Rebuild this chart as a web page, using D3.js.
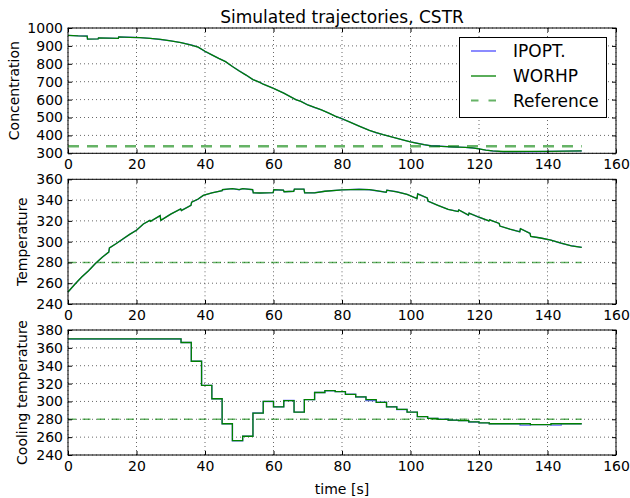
<!DOCTYPE html>
<html><head><meta charset="utf-8">
<script src="https://cdn.jsdelivr.net/npm/d3@7"></script>
<style>body{margin:0;background:#fff} text{font-family:"DejaVu Sans",sans-serif;fill:#000}</style>
</head><body><svg id="c" width="630" height="498"></svg>
<script>
// ---------- data ----------
const xTicks = [0,20,40,60,80,100,120,140,160];
const seriesNames = ["IPOPT.","WORHP","Reference"];

const concTime  = [0,3,5.6,5.7,8.8,8.9,12,14.7,14.8,18,21,24,27,30,33,36,38,40,42,44,46,48,50,52,54,56,57,60,63,66.5,68,70,72,74,76,78,80,82,85,88,90,92,95,98,100,102,104,106,109,112,116,118,120,122,124,127,130,135,140,145,150];
const concWorhp = [959,956,955,938,939,945,943,942,950,948,946,942,936,928,918,905,893,870,850,830,812,785,760,737,712,696,686,663,636,600,590,570,556,543,526,508,493,477,452,428,415,404,389,374,364,356,348,342,339,336,333,330,325,318,314,310,310,311,311,312,313];
const concIpopt = [959,956,955,938,939,945,943,942,950,948,946,942,936,928,918,905,893,870,850,830,812,785,760,737,712,696,686,663,636,600,590,570,556,543,526,508,493,477,452,428,415,404,389,374,364,356,348,342,339,336,333,330,325,318,313,308,308,309,310,312,313];
const concRef = 339;
const concTicks = [300,400,500,600,700,800,900,1000];

const tempTime  = [0,2,4,6,8,10,11.9,12.1,14,16,18,20,22,23.9,24.1,26.9,27.1,30,32.9,33.1,35.9,36.1,38,39.5,42,45,45.1,48,50,51,53.9,54.1,56,59.9,60.1,62.9,63.1,65.9,66.1,68.9,69.1,72,75,80,85,88,90,92.9,93.1,96,99,101.9,102.1,104.9,105.1,108,111,113.9,114.1,116.9,117.1,120,122.9,123.1,125.9,126.1,129,131.9,132.1,134.9,135.1,138,141,144,147,150];
const tempWorhp = [251.5,259,266,272,279,285,290,294,298,302.5,307,311,317,320.5,319.5,325,320.5,326.5,331.5,330,335,338,341,344.5,347,349,350,351,350,351,350,347,346.8,347.2,350,349.5,348,348.5,350.5,350.5,347,347,348.5,349.8,350.4,350,349,347.5,349.5,348,345.5,341.5,346,342,339,335,331,329,330.5,325.5,327.5,323.5,320,321,317.5,315,312,309.5,312.5,308,305,303.5,301.5,298.5,296,294.5];
const tempIpopt = [251.5,259,266,272,279,285,290,294,298,302.5,307,311,317,320.5,319.5,325,320.5,326.5,331.5,330,335,338,341,344.5,347,349,350,351,350,351,350,347,346.8,347.2,350,349.5,348,348.5,350.5,350.5,347,347,348.5,349.8,350.4,350,349,347.5,349.5,348,345.5,341.5,346,342,339,335,331,329,330.5,325.5,327.5,323.5,320,321,317.5,315,312,309.5,312.5,308,305,303.5,301.5,298.5,296,294.5];
const tempRef = 280;
const tempTicks = [240,260,280,300,320,340,360];

const ctrlTime  = [0,3,6,9,12,15,18,21,24,27,30,33,36,39,42,45,48,51,54,57,60,63,66,69,72,75,78,81,84,87,90,93,96,99,102,105,108,111,114,117,120,123,126,129,132,135,138,141,144,147,150];
const ctrlWorhp = [370,370,370,370,370,370,370,370,370,370,370,366,345,318,303,275,256,261,287,300,294,301,288,302,310,312,311,308,305,302,299,294,291,288,283,281,280,279,278.5,277,276,275,275,275,275,274,274,275,275,275,275];
const ctrlIpopt = [370,370,370,370,370,370,370,370,370,370,370,366,345,318,303,275,256,261,287,300,294,301,288,302,310,312,311,308,305,301,299,294,291,288,283,281,280,279,278.5,277,276,275,275,275,273.5,274,274,273.5,275,275,275];
const ctrlRef = 280;
const ctrlTicks = [240,260,280,300,320,340,360,380];

// ---------- layout ----------
const svg = d3.select("#c");
const L = 68, R = 616;
const panels = [
  {top:28,   bottom:153.3, dom:[300,1000], ticks:concTicks, label:"Concentration", labelX:18.5,
   t:concTime, a:concIpopt, b:concWorhp, ref:concRef, step:false, refDash:"11,8", refW:2.5},
  {top:179.3,bottom:304,   dom:[240,360],  ticks:tempTicks, label:"Temperature", labelX:27,
   t:tempTime, a:tempIpopt, b:tempWorhp, ref:tempRef, step:false, refDash:"8,6.5", refW:1.6},
  {top:330,  bottom:455,   dom:[240,380],  ticks:ctrlTicks, label:"Cooling temperature", labelX:27,
   t:ctrlTime, a:ctrlIpopt, b:ctrlWorhp, ref:ctrlRef, step:true, refDash:"8,6.5", refW:1.6}
];
const x = d3.scaleLinear().domain([0,160]).range([L,R]);

panels.forEach((p,i)=>{
  const y = d3.scaleLinear().domain(p.dom).range([p.bottom,p.top]);
  const g = svg.append("g");
  // grid
  g.selectAll(".gx").data(xTicks).join("line")
    .attr("x1",d=>x(d)).attr("x2",d=>x(d)).attr("y1",p.top).attr("y2",p.bottom)
    .attr("stroke","#000").attr("stroke-width",0.6).attr("stroke-dasharray","1,3");
  g.selectAll(".gy").data(p.ticks).join("line")
    .attr("y1",d=>y(d)).attr("y2",d=>y(d)).attr("x1",L).attr("x2",R)
    .attr("stroke","#000").attr("stroke-width",0.6).attr("stroke-dasharray","1,3");
  // reference
  g.append("line").attr("x1",x(0)).attr("x2",x(150)).attr("y1",y(p.ref)).attr("y2",y(p.ref))
    .attr("stroke","#008000").attr("stroke-opacity",0.6).attr("stroke-width",p.refW)
    .attr("stroke-dasharray",p.refDash);
  const line = d3.line().x(d=>x(d[0])).y(d=>y(d[1]));
  if (p.step) line.curve(d3.curveStepAfter);
  g.append("path").attr("d",line(p.t.map((t,k)=>[t,p.a[k]])))
    .attr("fill","none").attr("stroke","#0000ff").attr("stroke-width",1.4).attr("stroke-opacity",0.6);
  g.append("path").attr("d",line(p.t.map((t,k)=>[t,p.b[k]])))
    .attr("fill","none").attr("stroke","#008000").attr("stroke-width",1.3);
  // axes
  const ax = (gen, tr) => g.append("g").attr("transform",tr).call(gen)
      .call(s=>s.select(".domain").remove())
      .call(s=>s.selectAll("text").style("font-size","14px").style("font-family","DejaVu Sans"))
      .call(s=>s.selectAll("line").attr("stroke","#000"));
  ax(d3.axisLeft(y).tickValues(p.ticks).tickSize(-4).tickPadding(5).tickFormat(d3.format("d")), `translate(${L},0)`);
  ax(d3.axisRight(y).tickValues(p.ticks).tickSize(-4).tickFormat(""), `translate(${R},0)`);
  ax(d3.axisTop(x).tickValues(xTicks).tickSize(-4).tickFormat(""), `translate(0,${p.top})`);
  ax(d3.axisBottom(x).tickValues(xTicks).tickSize(-4).tickPadding(6).tickFormat(d3.format("d")), `translate(0,${p.bottom})`);
  // frame
  g.append("rect").attr("x",L).attr("y",p.top).attr("width",R-L).attr("height",p.bottom-p.top)
    .attr("fill","none").attr("stroke","#000").attr("stroke-width",1);
  // y label
  g.append("text").attr("transform",`translate(${p.labelX},${(p.top+p.bottom)/2}) rotate(-90)`)
    .attr("text-anchor","middle").style("font-size","14px").text(p.label);
});

// title
svg.append("text").attr("x",(L+R)/2).attr("y",22.5).attr("text-anchor","middle")
  .style("font-size","17px").text("Simulated trajectories, CSTR");
// x label
svg.append("text").attr("x",(L+R)/2).attr("y",493.5).attr("text-anchor","middle")
  .style("font-size","14px").text("time [s]");

// legend
const lg = svg.append("g");
lg.append("rect").attr("x",459.5).attr("y",37.5).attr("width",147).attr("height",80)
  .attr("fill","#fff").attr("stroke","#000").attr("stroke-width",1);
const legendItems = [
  {name:seriesNames[0], color:"#0000ff", op:0.7, dash:null, w:1.3, y:51},
  {name:seriesNames[1], color:"#008000", op:1, dash:null, w:1.3, y:76},
  {name:seriesNames[2], color:"#008000", op:0.6, dash:"7.5,10", w:2, y:100.5}
];
legendItems.forEach(it=>{
  lg.append("line").attr("x1",471).attr("x2",496).attr("y1",it.y).attr("y2",it.y)
    .attr("stroke",it.color).attr("stroke-opacity",it.op).attr("stroke-width",it.w)
    .attr("stroke-dasharray",it.dash);
  lg.append("text").attr("x",513).attr("y",it.y).attr("dy","0.36em")
    .style("font-size","17px").text(it.name);
});
</script></body></html>
